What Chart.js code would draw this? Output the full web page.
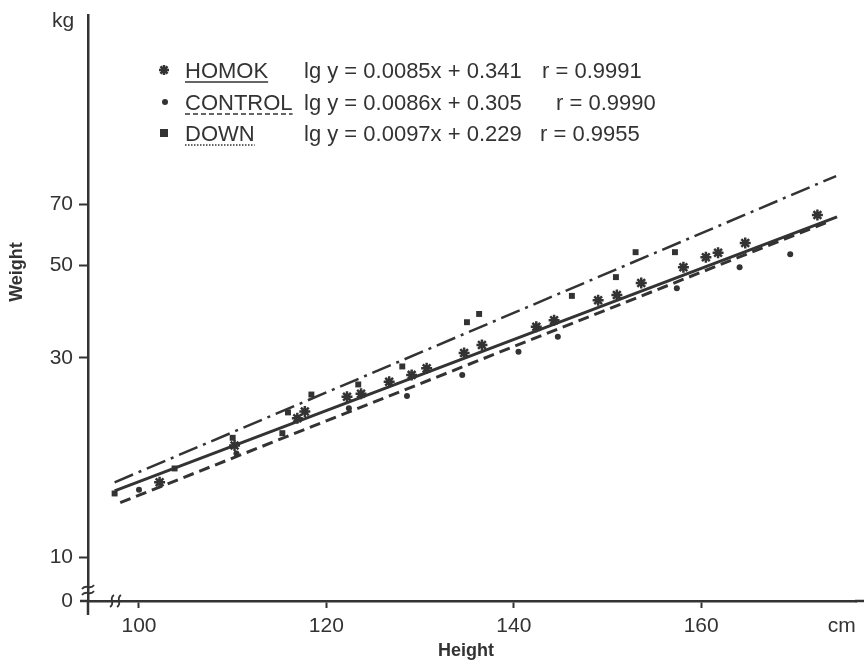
<!DOCTYPE html>
<html>
<head>
<meta charset="utf-8">
<script src="https://cdn.jsdelivr.net/npm/chart.js@4/dist/chart.umd.min.js"></script>
<style>
  html, body { margin: 0; padding: 0; background: #fff; }
  #wrap { width: 864px; height: 665px; }
</style>
</head>
<body>
<div id="wrap"><canvas id="chart" width="864" height="665"></canvas></div>
<script>
// heights (cm) and weights (kg)
var homokHeight = [102.2, 110.2, 116.9, 117.7, 122.2, 123.7, 126.7, 129.1, 130.7, 134.7, 136.6, 142.4, 144.3, 149.0, 151.0, 153.6, 158.1, 160.5, 161.8, 164.7, 172.4];
var homokWeight = [15.1, 18.5, 21.5, 22.3, 24.2, 24.6, 26.3, 27.3, 28.3, 30.8, 32.2, 35.6, 36.9, 41.2, 42.4, 45.3, 49.4, 52.2, 53.5, 56.5, 65.9];

var controlHeight = [100.0, 110.4, 122.4, 128.6, 134.5, 140.5, 144.7, 157.4, 164.1, 169.5];
var controlWeight = [14.5, 17.7, 22.7, 24.3, 27.3, 31.0, 33.7, 44.0, 49.4, 53.1];

var downHeight = [97.4, 103.8, 110.0, 115.3, 115.9, 118.4, 123.4, 128.1, 135.0, 136.3, 146.2, 150.9, 153.0, 157.2];
var downWeight = [14.2, 16.3, 19.3, 19.8, 22.2, 24.5, 25.9, 28.6, 36.5, 38.2, 42.2, 46.8, 53.7, 53.7];

// regression line end points (start, end)
var homokLineX = [97.4, 174.5];
var homokLineY = [14.4, 65.2];
var controlLineX = [98.0, 173.5];
var controlLineY = [13.5, 63.4];
var downLineX = [97.4, 174.4];
var downLineY = [15.1, 81.7];

var groupNames = ['HOMOK', 'CONTROL', 'DOWN'];
var equations = ['lg y = 0.0085x + 0.341', 'lg y = 0.0086x + 0.305', 'lg y = 0.0097x + 0.229'];
var rValues = ['r = 0.9991', 'r = 0.9990', 'r = 0.9955'];

var xTicks = [100, 120, 140, 160, 175];
var yTicks = [10, 30, 50, 70];
var xMin = 94.56, xMax = 176.52;
var yMin = 7.85, yMax = 198.5;

var ink = '#333';
var font = '"Liberation Sans", Arial, sans-serif';

function pts(xs, ys) {
  return xs.map(function(x, i) { return { x: x, y: ys[i] }; });
}

function lineSet(xs, ys, dash, width) {
  return {
    type: 'line',
    data: pts(xs, ys),
    borderColor: ink,
    borderWidth: width,
    borderDash: dash,
    pointRadius: 0,
    fill: false,
    tension: 0
  };
}

var extras = {
  id: 'extras',
  afterDraw: function(chart) {
    var ctx = chart.ctx;
    var area = chart.chartArea;
    ctx.save();
    ctx.fillStyle = ink;
    ctx.strokeStyle = ink;

    // kg label
    ctx.font = '21px ' + font;
    ctx.textAlign = 'left';
    ctx.textBaseline = 'alphabetic';
    ctx.fillText('kg', 52, 27);

    // axis titles
    ctx.font = 'bold 18px ' + font;
    ctx.textAlign = 'center';
    ctx.fillText('Height', 466, 656);
    ctx.save();
    ctx.translate(22, 272);
    ctx.rotate(-Math.PI / 2);
    ctx.fillText('Weight', 0, 0);
    ctx.restore();

    // axis cross at origin, x axis runs on to the page edge
    ctx.lineWidth = 2.5;
    ctx.beginPath();
    ctx.moveTo(area.left, area.bottom);
    ctx.lineTo(area.left, area.bottom + 14);
    ctx.moveTo(area.left - 8, area.bottom);
    ctx.lineTo(area.left, area.bottom);
    ctx.moveTo(area.right - 1, area.bottom);
    ctx.lineTo(chart.width, area.bottom);
    ctx.stroke();

    // axis breaks
    ctx.lineWidth = 1.8;
    var by = area.bottom - 14;
    [0, 6].forEach(function(d) {
      ctx.beginPath();
      ctx.moveTo(area.left - 6, by + d + 2);
      ctx.bezierCurveTo(area.left - 2, by + d - 4, area.left + 2, by + d + 4, area.left + 6, by + d - 2);
      ctx.stroke();
    });
    var bx = area.left + 24;
    [0, 7].forEach(function(d) {
      ctx.beginPath();
      ctx.moveTo(bx + d - 2, area.bottom + 6);
      ctx.bezierCurveTo(bx + d + 4, area.bottom + 2, bx + d - 4, area.bottom - 2, bx + d + 2, area.bottom - 6);
      ctx.stroke();
    });

    // legend block
    var rowY = [78, 110, 141];
    var rX = [542, 556, 540];
    ctx.textAlign = 'left';
    ctx.font = '22px ' + font;
    for (var i = 0; i < 3; i++) {
      var y = rowY[i];
      var cy = y - 8;
      if (i === 0) {
        ctx.lineWidth = 2.5;
        ctx.beginPath();
        for (var a = 0; a < 4; a++) {
          var ang = a * Math.PI / 4;
          ctx.moveTo(164 - 5 * Math.cos(ang), cy - 5 * Math.sin(ang));
          ctx.lineTo(164 + 5 * Math.cos(ang), cy + 5 * Math.sin(ang));
        }
        ctx.stroke();
      } else if (i === 1) {
        ctx.beginPath();
        ctx.arc(165, cy, 3, 0, Math.PI * 2);
        ctx.fill();
      } else {
        ctx.fillRect(160, cy - 4, 8, 8);
      }
      ctx.fillText(groupNames[i], 185, y);
      var w = ctx.measureText(groupNames[i]).width;
      ctx.lineWidth = 1.5;
      ctx.setLineDash(i === 0 ? [] : (i === 1 ? [5, 3] : [1.5, 1.5]));
      ctx.beginPath();
      ctx.moveTo(185, y + 4);
      ctx.lineTo(185 + w, y + 4);
      ctx.stroke();
      ctx.setLineDash([]);
      ctx.fillText(equations[i], 304, y);
      ctx.fillText(rValues[i], rX[i], y);
    }
    ctx.restore();
  }
};

new Chart(document.getElementById('chart'), {
  type: 'scatter',
  data: {
    datasets: [
      lineSet(downLineX, downLineY, [20, 6, 3, 6], 2.5),
      lineSet(homokLineX, homokLineY, [], 3),
      lineSet(controlLineX, controlLineY, [11, 6], 3),
      {
        label: 'HOMOK',
        data: pts(homokHeight, homokWeight),
        pointStyle: 'star',
        pointRadius: 5.5,
        pointBorderWidth: 2.5,
        borderColor: ink,
        backgroundColor: ink
      },
      {
        label: 'CONTROL',
        data: pts(controlHeight, controlWeight),
        pointStyle: 'circle',
        pointRadius: 3,
        borderWidth: 0,
        backgroundColor: ink
      },
      {
        label: 'DOWN',
        data: pts(downHeight, downWeight),
        pointStyle: 'rect',
        pointRadius: 4.2,
        borderWidth: 0,
        backgroundColor: ink
      }
    ]
  },
  options: {
    responsive: false,
    animation: false,
    layout: { padding: { top: 15, right: 0, left: 0, bottom: 0 } },
    plugins: { legend: { display: false }, tooltip: { enabled: false } },
    scales: {
      x: {
        type: 'linear',
        min: xMin,
        max: xMax,
        afterBuildTicks: function(scale) {
          scale.ticks = xTicks.map(function(v) { return { value: v }; });
        },
        afterFit: function(scale) {
          scale.height = 64;
        },
        ticks: {
          color: ink,
          font: { family: font, size: 21 },
          padding: 6,
          maxRotation: 0,
          autoSkip: false,
          callback: function(v) { return v === 175 ? 'cm' : String(v); }
        },
        grid: {
          drawOnChartArea: false,
          drawTicks: true,
          tickLength: 7,
          tickWidth: 2,
          tickColor: function(c) { return c.tick && c.tick.value === 175 ? 'rgba(0,0,0,0)' : ink; }
        },
        border: { display: true, color: ink, width: 2.5 }
      },
      y: {
        type: 'logarithmic',
        min: yMin,
        max: yMax,
        afterBuildTicks: function(scale) {
          scale.ticks = [yMin].concat(yTicks).map(function(v) { return { value: v }; });
        },
        afterFit: function(scale) {
          scale.width = 88;
          scale.paddingTop = 0;
          scale.paddingBottom = 0;
        },
        ticks: {
          color: ink,
          font: { family: font, size: 21 },
          padding: 6,
          autoSkip: false,
          callback: function(v) { return v === yMin ? '0' : String(v); }
        },
        grid: {
          drawOnChartArea: false,
          drawTicks: true,
          tickLength: 9,
          tickWidth: 2,
          tickColor: function(c) { return c.tick && c.tick.value === yMin ? 'rgba(0,0,0,0)' : ink; }
        },
        border: { display: true, color: ink, width: 2.5 }
      }
    }
  },
  plugins: [extras]
});
</script>
</body>
</html>
